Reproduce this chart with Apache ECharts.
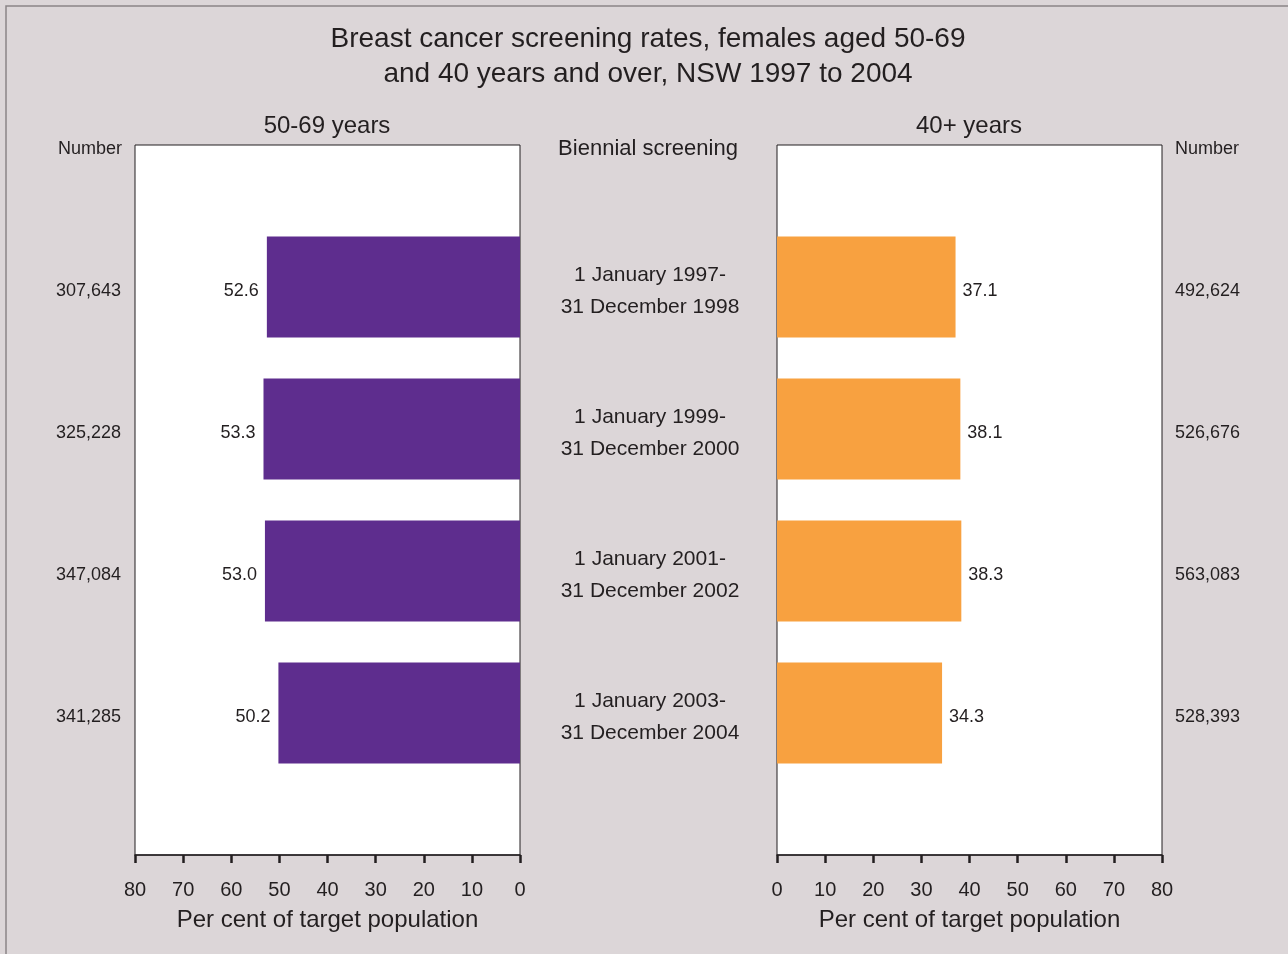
<!DOCTYPE html>
<html>
<head>
	<meta charset="utf-8">
	<title>Breast cancer screening rates</title>
	<script src="https://cdn.jsdelivr.net/npm/echarts@6/dist/echarts.min.js"></script>
	<style>
		html, body { margin: 0; padding: 0; background: #dcd6d8; }
	</style>
</head>
<body>
<div id="chart" style="width: 1288px; height: 954px"></div>
<script>
	const periods = ['1 January 1997-\n31 December 1998', '1 January 1999-\n31 December 2000',
		'1 January 2001-\n31 December 2002', '1 January 2003-\n31 December 2004'];
	const rate5069 = [52.6, 53.3, 53.0, 50.2];
	const rate40 = [37.1, 38.1, 38.3, 34.3];
	const number5069 = ['307,643', '325,228', '347,084', '341,285'];
	const number40 = ['492,624', '526,676', '563,083', '528,393'];
	const xTicks = [0, 10, 20, 30, 40, 50, 60, 70, 80];

	const ink = '#231f20', font = 'Liberation Sans, Arial, sans-serif';
	// empty slot top and bottom so the bars sit at 1/5 steps
	const cats = [''].concat(periods, ['']);
	const pad = arr => [null].concat(arr, [null]);

	function xAxis(grid, inverse) {
		return {
			type: 'value', gridIndex: grid, min: xTicks[0], max: xTicks[xTicks.length - 1],
			interval: xTicks[1] - xTicks[0], inverse: inverse,
			name: 'Per cent of target population', nameLocation: 'middle', nameGap: 53,
			nameTextStyle: { color: ink, fontSize: 24, fontFamily: font },
			axisLine: { show: true, lineStyle: { color: ink, width: 1.5 } },
			axisTick: { show: true, length: 8, lineStyle: { color: ink, width: 2.5 } },
			axisLabel: { color: ink, fontSize: 20, fontFamily: font, margin: 25 },
			splitLine: { show: false }
		};
	}
	function yAxis(grid, pos, labels, margin, align) {
		const size = labels === 'periods' ? 21 : 18;
		return {
			type: 'category', gridIndex: grid, data: cats, inverse: true, boundaryGap: false,
			position: pos,
			axisLine: { show: false }, axisTick: { show: false }, splitLine: { show: false },
			axisLabel: {
				interval: 0, margin: margin, align: align, color: ink, fontFamily: font,
				fontSize: size, lineHeight: 32,
				rich: { t: { fontSize: size, fontFamily: font, color: ink, lineHeight: 32, padding: [8, 0, 0, 0] } },
				formatter: (v, i) => {
					const s = labels === 'periods' ? v : (labels[i - 1] || '');
					return s ? s.split('\n').map(l => '{t|' + l + '}').join('\n') : '';
				}
			}
		};
	}
	const titleStyle = (size) => ({ color: ink, fontSize: size, fontWeight: 'normal', fontFamily: font });

	let option = {
		backgroundColor: '#dcd6d8',
		animation: false,
		graphic: [{
			type: 'rect', shape: { x: 6, y: 6, width: 1300, height: 1000 },
			style: { fill: 'none', stroke: '#8a8587', lineWidth: 1.5 }, silent: true
		}],
		title: [
			{ text: 'Breast cancer screening rates, females aged 50-69\nand 40 years and over, NSW 1997 to 2004',
				left: 648, top: 22, padding: 0, textAlign: 'center',
				textStyle: Object.assign(titleStyle(28), { lineHeight: 35 }) },
			{ text: '50-69 years', left: 327, top: 114, padding: 0, textAlign: 'center', textStyle: titleStyle(24) },
			{ text: '40+ years', left: 969, top: 114, padding: 0, textAlign: 'center', textStyle: titleStyle(24) },
			{ text: 'Biennial screening', left: 648, top: 138, padding: 0, textAlign: 'center', textStyle: titleStyle(22) },
			{ text: 'Number', left: 90, top: 140, padding: 0, textAlign: 'center', textStyle: titleStyle(18) },
			{ text: 'Number', left: 1207, top: 140, padding: 0, textAlign: 'center', textStyle: titleStyle(18) }
		],
		grid: [
			{ left: 135, right: 768, top: 145, bottom: 99, show: true, backgroundColor: '#fff',
				borderColor: ink, borderWidth: 1 },
			{ left: 777, right: 126, top: 145, bottom: 99, show: true, backgroundColor: '#fff',
				borderColor: ink, borderWidth: 1 }
		],
		xAxis: [xAxis(0, true), xAxis(1, false)],
		yAxis: [
			yAxis(0, 'left', number5069, 14, 'right'),
			yAxis(1, 'right', number40, 13, 'left'),
			yAxis(1, 'left', 'periods', 127, 'center')
		],
		series: [
			{
				type: 'bar', xAxisIndex: 0, yAxisIndex: 0, data: pad(rate5069), barWidth: 101,
				itemStyle: { color: '#5e2d8e' },
				label: { show: true, position: 'left', distance: 8, offset: [0, 4], color: ink, fontSize: 18,
					fontFamily: font, formatter: p => p.value.toFixed(1) }
			},
			{
				type: 'bar', xAxisIndex: 1, yAxisIndex: 1, data: pad(rate40), barWidth: 101,
				itemStyle: { color: '#f8a140' },
				label: { show: true, position: 'right', distance: 7, offset: [0, 4], color: ink, fontSize: 18,
					fontFamily: font, formatter: p => p.value.toFixed(1) }
			}
		]
	};
	let myChart = echarts.init(document.getElementById('chart'));
	myChart.setOption(option);
</script>
</body>
</html>
